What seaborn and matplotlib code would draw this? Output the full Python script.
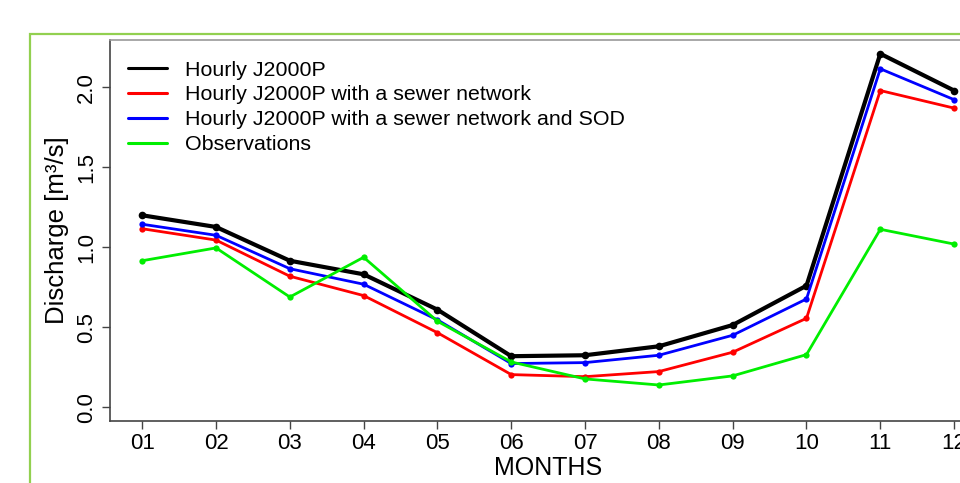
import numpy as np
import pandas as pd
import seaborn as sns
import matplotlib.pyplot as plt
from matplotlib.lines import Line2D
from matplotlib.patches import Rectangle

# monthly mean discharge (m3/s)
months = ['01', '02', '03', '04', '05', '06', '07', '08', '09', '10', '11', '12']
hourly = [1.20, 1.127, 0.916, 0.831, 0.61, 0.319, 0.325, 0.381, 0.514, 0.76, 2.21, 1.98]
sewer = [1.116, 1.045, 0.819, 0.698, 0.466, 0.204, 0.191, 0.223, 0.344, 0.556, 1.98, 1.87]
sewer_sod = [1.144, 1.075, 0.866, 0.769, 0.546, 0.273, 0.279, 0.325, 0.45, 0.677, 2.116, 1.923]
obs = [0.916, 0.996, 0.689, 0.9375, 0.5375, 0.283, 0.177, 0.139, 0.196, 0.329, 1.1125, 1.02]

names = ['Hourly J2000P',
         'Hourly J2000P with a sewer network',
         'Hourly J2000P with a sewer network and SOD',
         'Observations']
colors = ['black', '#ff0000', '#0000ff', '#00ee00']
widths = [3, 2, 2, 2]
msizes = [5.5, 4.5, 4.5, 4.5]

df = pd.DataFrame({'month': np.arange(1, 13),
                   names[0]: hourly, names[1]: sewer,
                   names[2]: sewer_sod, names[3]: obs})
df_long = df.melt(id_vars='month', var_name='run', value_name='discharge')

sns.set_style('white')
plt.rcParams['font.family'] = ['Liberation Sans', 'DejaVu Sans']
plt.rcParams['text.color'] = 'black'
plt.rcParams['axes.labelcolor'] = 'black'
plt.rcParams['xtick.color'] = 'black'
plt.rcParams['ytick.color'] = 'black'

fig = plt.figure(figsize=(9.6, 4.83), dpi=100)
ax = fig.add_axes([0.1143, 0.1284, 0.9134, 0.7888])

# green frame around the plot (only left and top visible)
fig.patches.append(Rectangle((29.5 / 960, -0.2), 1.2, 1.2 - 33.5 / 483,
                             transform=fig.transFigure, fill=False,
                             edgecolor='#92d050', linewidth=1.6))

for name, c, lw, ms in zip(names, colors, widths, msizes):
    sns.lineplot(data=df_long[df_long['run'] == name], x='month', y='discharge',
                 color=c, linewidth=lw, marker='o', markersize=ms,
                 markeredgewidth=0, ax=ax, legend=False)

ax.set_xlim(0.56, 12.44)
ax.set_ylim(-0.086, 2.296)
ax.set_xticks(np.arange(1, 13))
ax.set_xticklabels(months, fontsize=16)
ax.set_yticks([0.0, 0.5, 1.0, 1.5, 2.0])
ax.set_yticklabels(['0.0', '0.5', '1.0', '1.5', '2.0'], fontsize=16,
                   rotation=90, va='center')
ax.tick_params(axis='both', direction='out', length=6, width=1,
               color='#444444', left=True, bottom=True)
ax.tick_params(axis='x', pad=3)
ax.tick_params(axis='y', pad=3)

ax.set_xlabel('MONTHS', fontsize=18, labelpad=1)
ax.set_ylabel('Discharge [m\u00b3/s]', fontsize=18.5, labelpad=5)

for side in ['left', 'bottom']:
    ax.spines[side].set_color('#444444')
    ax.spines[side].set_linewidth(1.2)
ax.spines['top'].set_color('#999999')
ax.spines['top'].set_linewidth(1.2)

handles = [Line2D([0], [0], color=c, linewidth=2.2) for c in colors]
ax.legend(handles, names, loc='upper left', frameon=False, fontsize=15.4,
          handlelength=1.8, handletextpad=0.85, labelspacing=0.27,
          borderaxespad=0.3, bbox_to_anchor=(0.004, 0.985))

fig.savefig('out.png', dpi=100)
